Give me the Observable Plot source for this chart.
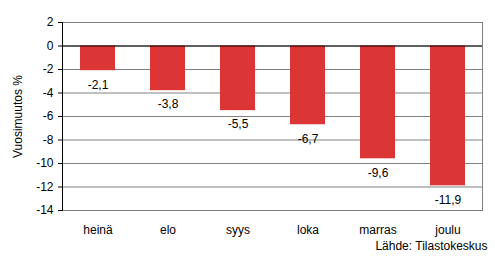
<!DOCTYPE html>
<html>
<head>
<meta charset="utf-8">
<script src="https://cdn.jsdelivr.net/npm/d3@7"></script>
<script src="https://cdn.jsdelivr.net/npm/@observablehq/plot@0.6"></script>
<style>
  html, body { margin: 0; padding: 0; background: #fff; }
  #chart svg { display: block; }
</style>
</head>
<body>
<div id="chart"></div>
<script>
const months = ["heinä", "elo", "syys", "loka", "marras", "joulu"];
const values = [-2.1, -3.8, -5.5, -6.7, -9.6, -11.9];
const yTicks = [2, 0, -2, -4, -6, -8, -10, -12, -14];
const yLabel = "Vuosimuutos %";
const source = "Lähde: Tilastokeskus";

const data = months.map((m, i) => ({month: m, value: values[i]}));
const fmt = v => v.toFixed(1).replace(".", ",");

const chart = Plot.plot({
  width: 495,
  height: 266,
  marginLeft: 62,
  marginRight: 13,
  marginTop: 22,
  marginBottom: 56,
  style: {fontFamily: "Liberation Sans, Arial, sans-serif", fontSize: "12px", color: "#000", background: "#fff"},
  x: {domain: months, paddingInner: 0.5, paddingOuter: 0.25, label: null},
  y: {domain: [-14, 2], label: null},
  marks: [
    Plot.gridY(yTicks, {stroke: "#808080", strokeOpacity: 1}),
    Plot.frame({anchor: "right", stroke: "#808080"}),
    Plot.barY(data, {x: "month", y: "value", fill: "#dc3535"}),
    Plot.ruleY([0], {stroke: "#000"}),
    Plot.frame({anchor: "left", stroke: "#000"}),
    Plot.axisY({ticks: yTicks, tickSize: 4, tickPadding: 5, tickFormat: d => String(d), label: null, stroke: "#000"}),
    Plot.axisX({tickSize: 0, tickPadding: 15, label: null}),
    Plot.text(data, {x: "month", y: "value", text: d => fmt(d.value), dy: 14, fill: "#000"}),
    Plot.text([yLabel], {frameAnchor: "left", dx: -44, rotate: -90, textAnchor: "middle", lineAnchor: "middle", fill: "#000"}),
    Plot.text([source], {frameAnchor: "bottom-right", dx: 5, dy: 39, textAnchor: "end", fill: "#000"})
  ]
});
document.getElementById("chart").append(chart);
</script>
</body>
</html>
